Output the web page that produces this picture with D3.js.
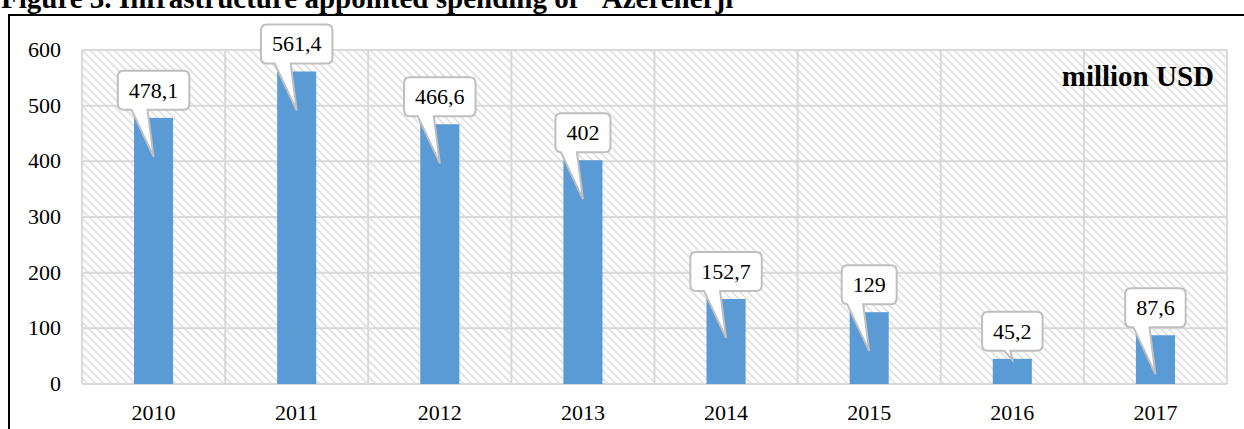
<!DOCTYPE html>
<html>
<head>
<meta charset="utf-8">
<script src="https://cdn.jsdelivr.net/npm/d3@7"></script>
<style>
  html, body { margin: 0; padding: 0; background: #fff; }
  svg { display: block; }
  text { font-family: "Liberation Serif", "Times New Roman", serif; }
</style>
</head>
<body>
<svg id="chart" width="1244" height="429"></svg>
<script>
const categories = ["2010", "2011", "2012", "2013", "2014", "2015", "2016", "2017"];
const values = [478.1, 561.4, 466.6, 402, 152.7, 129, 45.2, 87.6];
const yTicks = [0, 100, 200, 300, 400, 500, 600];
const titleText = "Figure 3. Infrastructure appointed spending of \"Azerenerji\"";
const unitText = "million USD";

const svg = d3.select("#chart");
const W = 1244, H = 429;
const plot = { left: 82, right: 1227, top: 50, bottom: 384 };

const x = d3.scaleBand().domain(categories).range([plot.left, plot.right])
  .paddingInner(0.727).paddingOuter(0.727 / 2);
const y = d3.scaleLinear().domain([0, 600]).range([plot.bottom, plot.top]);
const fmt = v => String(v).replace(".", ",");

// hatch pattern
const defs = svg.append("defs");
const pat = defs.append("pattern").attr("id", "hatch").attr("patternUnits", "userSpaceOnUse")
  .attr("width", 8).attr("height", 8);
pat.append("rect").attr("width", 8).attr("height", 8).attr("fill", "#fff");
pat.append("path").attr("d", "M-2,-2 L10,10 M-2,6 L2,10 M6,-2 L10,2")
  .attr("stroke", "#e4e4e4").attr("stroke-width", 2);

// title (cut off at top, as in the reference)
svg.append("text").attr("x", 1).attr("y", 8).attr("font-size", 29).attr("font-weight", "bold")
  .attr("fill", "#000").text(titleText);

// outer frame
svg.append("path").attr("d", `M9,${H + 5} V15 H${W + 5}`).attr("fill", "none")
  .attr("stroke", "#000").attr("stroke-width", 2);

// plot background
svg.append("rect").attr("x", plot.left).attr("y", plot.top)
  .attr("width", plot.right - plot.left).attr("height", plot.bottom - plot.top)
  .attr("fill", "url(#hatch)");

// horizontal gridlines
svg.append("g").selectAll("line").data(yTicks).join("line")
  .attr("x1", plot.left).attr("x2", plot.right)
  .attr("y1", d => y(d)).attr("y2", d => y(d))
  .attr("stroke", "#d9d9d9").attr("stroke-width", 2);

// vertical gridlines at category boundaries
const step = x.step();
const gap = (step - x.bandwidth()) / 2;
const bounds = categories.map(c => x(c) - gap).concat([x(categories[categories.length - 1]) - gap + step]);
svg.append("g").selectAll("line").data(bounds).join("line")
  .attr("x1", d => d).attr("x2", d => d)
  .attr("y1", plot.top).attr("y2", plot.bottom)
  .attr("stroke", "#d9d9d9").attr("stroke-width", 2);

// y axis labels
svg.append("g").selectAll("text").data(yTicks).join("text")
  .attr("x", 61).attr("y", d => y(d) + 7).attr("text-anchor", "end")
  .attr("font-size", 22).attr("fill", "#000").text(d => d);

// x axis labels
svg.append("g").selectAll("text").data(categories).join("text")
  .attr("x", d => x(d) + x.bandwidth() / 2).attr("y", 420).attr("text-anchor", "middle")
  .attr("font-size", 22).attr("fill", "#000").text(d => d);

// bars
svg.append("g").selectAll("rect").data(values).join("rect")
  .attr("x", (d, i) => x(categories[i])).attr("width", x.bandwidth())
  .attr("y", d => y(d)).attr("height", d => y(0) - y(d))
  .attr("fill", "#5b9bd5");

// unit label
svg.append("text").attr("x", 1214).attr("y", 86).attr("text-anchor", "end")
  .attr("font-size", 29).attr("font-weight", "bold").attr("fill", "#000").text(unitText);

// callouts
const cg = svg.append("g");
values.forEach((v, i) => {
  const cx = x(categories[i]) + x.bandwidth() / 2;
  const top = y(v);
  const label = fmt(v);
  const t = cg.append("text").attr("font-size", 22).attr("text-anchor", "middle").text(label);
  const tw = t.node().getComputedTextLength();
  const bw = tw + 22, bh = 39, r = 6;
  const bb = top - 8, bt = bb - bh;
  const bl = cx - bw / 2, br = cx + bw / 2;
  let tipY = top + 39, b1 = cx - 22, b2 = cx - 6;
  if (tipY > y(0) - 5) { tipY = top + 1; b1 = cx - 8; b2 = cx - 2; }
  const d = `M${bl + r},${bt} H${br - r} Q${br},${bt} ${br},${bt + r} V${bb - r} Q${br},${bb} ${br - r},${bb}
    H${b2} L${cx},${tipY} L${b1},${bb} H${bl + r} Q${bl},${bb} ${bl},${bb - r} V${bt + r} Q${bl},${bt} ${bl + r},${bt} Z`;
  cg.insert("path", "text").attr("d", d).attr("fill", "#fff").attr("stroke", "#bfbfbf").attr("stroke-width", 2);
  t.attr("x", cx).attr("y", (bt + bb) / 2 + 7.5).attr("fill", "#000").raise();
});
</script>
</body>
</html>
